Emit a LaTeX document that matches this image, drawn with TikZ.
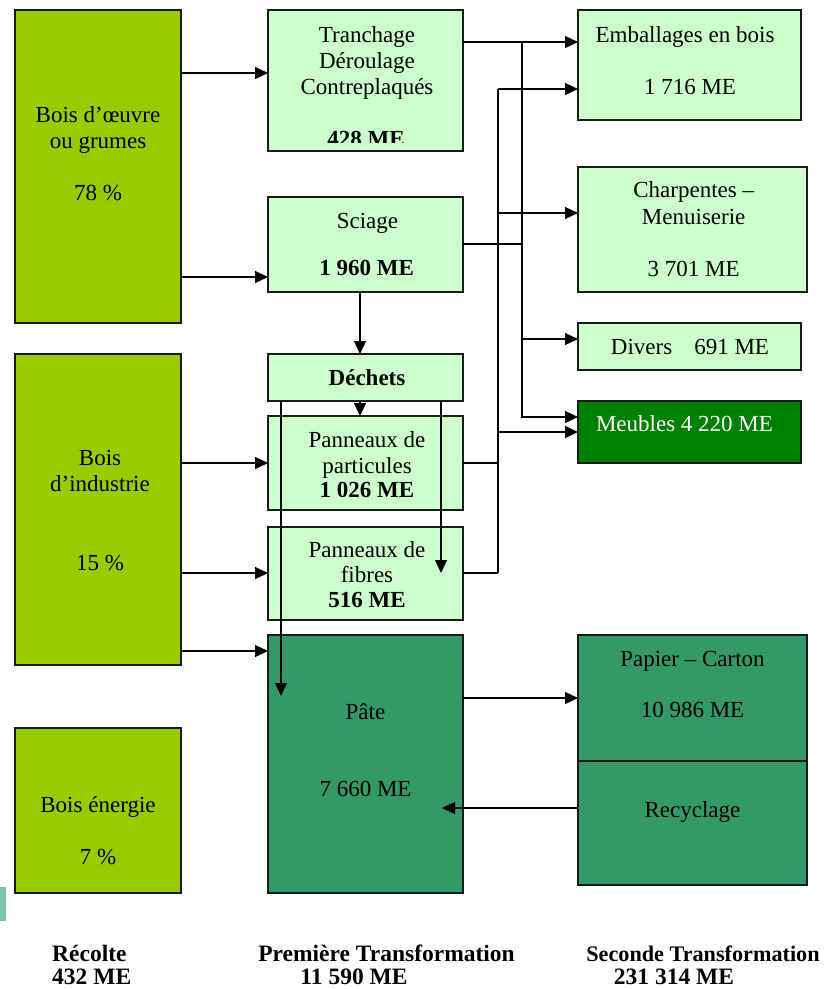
\documentclass[tikz,border=0pt]{standalone}
\usepackage{fontspec}
\setmainfont{Liberation Serif}
\usetikzlibrary{arrows.meta,calc}
\definecolor{boisgreen}{HTML}{99CC00}
\definecolor{lightg}{HTML}{CCFFCC}
\definecolor{pulpg}{HTML}{339966}
\definecolor{meubg}{HTML}{008000}
\definecolor{tealbar}{HTML}{7FC4A4}
\definecolor{edge}{HTML}{1A1A1A}
\begin{document}
\begin{tikzpicture}[x=1pt,y=-1pt,
 box/.style={draw=edge,line width=1.4pt,rectangle,inner sep=0pt,outer sep=0pt},
 boisbox/.style={box,fill=boisgreen},
 lbox/.style={box,fill=lightg},
 pbox/.style={box,fill=pulpg},
 mbox/.style={box,fill=meubg},
 txt/.style={anchor=base,inner sep=0pt,font=\fontsize{23}{26}\selectfont},
 btxt/.style={anchor=base,inner sep=0pt,font=\fontsize{23}{26}\selectfont\bfseries},
 ftxt/.style={anchor=base,inner sep=0pt,font=\fontsize{23.5}{26}\selectfont\bfseries},
 arr/.style={-{Triangle[length=13pt,width=12pt]},line width=1.2pt,draw=black},
 ln/.style={line width=1.2pt,draw=black}
]
\useasboundingbox (0,0) rectangle (824,989);
\fill[white] (0,0) rectangle (824,989);

% left column
\node[boisbox,minimum width=166pt,minimum height=313pt] (boeuvre) at (98,166.5) {};
\node[boisbox,minimum width=166pt,minimum height=311pt] (bind) at (98,509.5) {};
\node[boisbox,minimum width=166pt,minimum height=165pt] (bener) at (98,810.5) {};
\fill[tealbar] (0,887) rectangle (6,921);

% middle column
\node[lbox,minimum width=195pt,minimum height=141pt] (tranch) at (365.5,80.5) {};
\node[lbox,minimum width=195pt,minimum height=95pt] (sciage) at (365.5,244.5) {};
\node[lbox,minimum width=195pt,minimum height=47pt] (dechets) at (365.5,377.5) {};
\node[lbox,minimum width=195pt,minimum height=94pt] (part) at (365.5,463) {};
\node[lbox,minimum width=195pt,minimum height=93pt] (fibres) at (365.5,573.5) {};
\node[pbox,minimum width=195pt,minimum height=258pt] (pate) at (365.5,764) {};

% right column
\node[lbox,minimum width=223pt,minimum height=110pt] (emb) at (689.5,65) {};
\node[lbox,minimum width=229pt,minimum height=125pt] (charp) at (692.5,229.5) {};
\node[lbox,minimum width=223pt,minimum height=47pt] (divers) at (689.5,346.5) {};
\node[mbox,minimum width=223pt,minimum height=62pt] (meubles) at (689.5,432) {};
\node[pbox,minimum width=229pt,minimum height=126pt] (papier) at (692.5,698) {};
\node[pbox,minimum width=229pt,minimum height=124pt] (recyc) at (692.5,823) {};

% junction coordinates
\coordinate (ja) at (522,42);
\coordinate (jb) at (498,89);
\coordinate (pin) at (281,696);
\coordinate (fin) at (441,573);
\coordinate (rin) at (442,808);

% left arrows
\draw[arr] (boeuvre.east |- 0,73) -- (tranch.west |- 0,73);
\draw[arr] (boeuvre.east |- 0,277) -- (sciage.west |- 0,277);
\draw[arr] (bind.east |- 0,463) -- (part.west |- 0,463);
\draw[arr] (bind.east |- 0,573) -- (fibres.west |- 0,573);
\draw[arr] (bind.east |- 0,651) -- (pate.west |- 0,651);

% middle vertical flows
\draw[arr] (sciage.south -| 360,0) -- (dechets.north -| 360,0);
\draw[arr] (dechets.south -| 360,0) -- (part.north -| 360,0);
\draw[arr] (dechets.south -| pin) -- (pin);
\draw[arr] (dechets.south -| fin) -- (fin);

% right connectors, line x=522
\draw[arr] (tranch.east |- ja) -- (emb.west |- ja);
\draw[arr] (ja) |- (meubles.west |- 0,417);
\draw[ln] (sciage.east |- 0,244) -- (ja |- 0,244);
\draw[arr] (ja |- 0,339) -- (divers.west |- 0,339);

% right connectors, line x=498
\draw[arr] (jb) -- (emb.west |- jb);
\draw[ln] (jb) -- (jb |- 0,573);
\draw[arr] (jb |- 0,213) -- (charp.west |- 0,213);
\draw[arr] (jb |- 0,432) -- (meubles.west |- 0,432);
\draw[ln] (part.east |- 0,463) -- (jb |- 0,463);
\draw[ln] (fibres.east |- 0,573) -- (jb |- 0,573);

% paper
\draw[arr] (pate.east |- 0,698) -- (papier.west |- 0,698);
\draw[arr] (recyc.west |- rin) -- (rin);

% texts left
\node[txt] (t1) at (98,122) {Bois d’œuvre};
\node[txt] (t2) at (98,148) {ou grumes};
\node[txt] (t3) at (98,200) {78 \%};
\node[txt] (t4) at (100,465) {Bois};
\node[txt] (t5) at (100,491) {d’industrie};
\node[txt] (t6) at (100,570) {15 \%};
\node[txt] (t7) at (98,812) {Bois énergie};
\node[txt] (t8) at (98,864) {7 \%};

% texts middle
\node[txt] (t9) at (367,42) {Tranchage};
\node[txt] (t10) at (367,68) {Déroulage};
\node[txt] (t11) at (367,94) {Contreplaqués};
\begin{scope}
\clip (268,10) rectangle (463,142);
\node[btxt] (t12) at (366,146) {428 ME};
\end{scope}
\node[txt] (t13) at (367.5,228) {Sciage};
\node[btxt] (t14) at (366.7,275) {1 960 ME};
\node[btxt] (t15) at (367,385) {Déchets};
\node[txt] (t16) at (367,447) {Panneaux de};
\node[txt] (t17) at (367,473) {particules};
\node[btxt] (t18) at (367,497) {1 026 ME};
\node[txt] (t19) at (367,557) {Panneaux de};
\node[txt] (t20) at (367,582) {fibres};
\node[btxt] (t21) at (367,607) {516 ME};
\node[txt] (t22) at (365.5,719) {Pâte};
\node[txt] (t23) at (365.5,796) {7 660 ME};

% texts right
\node[txt] (t24) at (685,42) {Emballages en bois};
\node[txt] (t25) at (690,94) {1 716 ME};
\node[txt] (t26) at (693.7,197) {Charpentes –};
\node[txt] (t27) at (693.7,224) {Menuiserie};
\node[txt] (t28) at (693.7,276) {3 701 ME};
\node[txt] (t29) at (690,354) {Divers\hspace{22pt}691 ME};
\node[txt,text=white] (t30) at (684.5,431) {Meubles 4 220 ME};
\node[txt] (t31) at (692.5,666) {Papier – Carton};
\node[txt] (t32) at (692.5,717) {10 986 ME};
\node[txt] (t33) at (692.5,817) {Recyclage};

% footer
\node[ftxt,anchor=base west] (f1) at (52,961) {Récolte};
\node[ftxt,anchor=base west] (f2) at (52,984) {432 ME};
\node[ftxt] (f3) at (386.5,961) {Première Transformation};
\node[ftxt] (f4) at (354,984) {11 590 ME};
\node[ftxt,font=\fontsize{22.2}{26}\selectfont\bfseries] (f5) at (703,961) {Seconde Transformation};
\node[ftxt] (f6) at (674,984) {231 314 ME};
\end{tikzpicture}
\end{document}
